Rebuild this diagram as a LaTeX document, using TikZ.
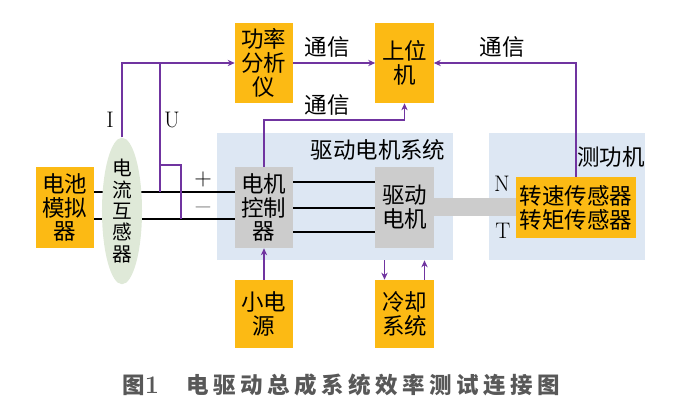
\documentclass[tikz,border=0pt]{standalone}
\usepackage{fontspec}
\newfontfamily\cjk{Noto Sans CJK SC}
\usetikzlibrary{arrows.meta,shapes.geometric,calc}
\definecolor{bxO}{RGB}{252,186,20}
\definecolor{bxG}{RGB}{204,204,204}
\definecolor{bgB}{RGB}{221,231,243}
\definecolor{ctG}{RGB}{223,233,216}
\definecolor{sgP}{RGB}{112,52,160}
\definecolor{capT}{RGB}{88,88,88}
\newcommand{\BW}{1.45cm}
\newcommand{\BH}{2.0cm}
\newcommand{\SH}{1.7cm}

\begin{document}
\begin{tikzpicture}[x=0.025cm, y=-0.025cm,
    blk/.style={fill=bxO, inner sep=0pt, minimum width=\BW, minimum height=\BH,
      align=center, font=\cjk\fontsize{16}{17}\selectfont},
    gbk/.style={blk, fill=bxG},
    sysbg/.style={fill=bgB, inner sep=0pt},
    pw/.style={draw=black, line width=1.4pt},
    sig/.style={draw=sgP, line width=1.4pt},
    arr/.style={sig, -{Stealth[length=5pt,width=4.5pt]}},
    lab/.style={font=\cjk\fontsize{16}{17}\selectfont, inner sep=0pt},
    ltr/.style={font=\fontsize{16}{17}\selectfont, inner sep=0pt},
  ]
  \useasboundingbox (0,0) rectangle (700,419);

  %% ================= the two system backgrounds =================
  \node[sysbg, minimum width=5.9cm, minimum height=3.175cm] (drv) at (335,196.5) {};
  \node[sysbg, minimum width=3.9cm, minimum height=3.175cm] (dyn) at (567,196.5) {};
  \node[lab] (drvT) at (378,150) {驱动电机系统};
  \node[lab, anchor=east] (dynT) at (645,157) {测功机};

  %% ================= blocks =================
  \node[blk] (pa) at (264,63) {功率\\分析\\仪};
  \node[blk] (pc) at (404.5,63) {上位\\机};
  \node[blk, minimum height=2.025cm] (bat) at (65,207.5) {电池\\模拟\\器};
  \node[gbk, minimum height=2.025cm] (mcu) at (264,207.5) {电机\\控制\\器};
  \node[gbk, minimum height=2.025cm] (mot) at (404.5,207.5) {驱动\\电机};
  \node[blk, minimum width=3.0cm, minimum height=1.525cm] (sen) at (576,207.5) {转速传感器\\转矩传感器};
  \node[blk, minimum height=\SH] (pwr) at (264,314) {小电\\源};
  \node[blk, minimum height=\SH] (cool) at (404.5,314) {冷却\\系统};

  \draw[bxG, line width=0.45cm] (mot.east) -- (mot.east -| sen.west);  % shaft

  %% ================= power wiring =================
  \coordinate (yP) at (0,192);
  \coordinate (yM) at (0,219);
  \draw[pw] (bat.east |- yP) -- (mcu.west |- yP);
  \draw[pw] (bat.east |- yM) -- (mcu.west |- yM);
  \foreach \dy in {-25.5,0.5,24.5} {            % three phases
    \draw[pw] ($(mcu.east)+(0,\dy)$) -- ($(mot.west)+(0,\dy)$);
  }
  \node[ltr] (plus) at (203,179) {$+$};
  \node[ltr, text=gray] (minus) at (203,207) {$-$};

  %% current transformer sits on the wires
  \node[ellipse, fill=ctG, minimum width=1.0cm, minimum height=3.3cm, inner sep=0pt,
    align=center, font=\cjk\fontsize{14}{15.2}\selectfont] (ct) at (122,211) {电\\流\\互\\感\\器};

  %% ================= signal lines =================
  \draw[arr] (ct.north) |- (pa.west);
  \coordinate (uA) at (160,192);
  \coordinate (uB) at (160,165);
  \coordinate (uC) at (181,219);
  \draw[sig] (uA) -- (uA |- pa.west);
  \draw[sig] (uB) -| (uC);
  \node[ltr] (lI) at (110,120) {I};
  \node[ltr] (lU) at (172,120) {U};

  \draw[arr] (pa) -- (pc);
  \draw[arr] (mcu.north) -- ++(0,-47) -| (pc.south);
  \draw[arr] (sen.north) |- (pc.east);
  \draw[arr] (pwr) -- (mcu);
  \coordinate (cdn) at ($(cool.north)+(-20,0)$);
  \coordinate (cup) at ($(cool.north)+(20,0)$);
  \draw[arr] (cdn |- drv.south) -- (cdn);
  \draw[arr] (cup) -- (cup |- drv.south);

  \node[lab] (t1) at (327,47) {通信};
  \node[lab] (t2) at (327,105) {通信};
  \node[lab] (t3) at (502,47) {通信};
  \node[ltr] (lN) at (502,184) {N};
  \node[ltr] (lT) at (503,231) {T};

  %% ================= caption =================
  \node[font=\cjk\bfseries\fontsize{16}{18}\selectfont, text=capT, anchor=west, inner sep=0pt]
    (cap) at (122,385) {图{\rmfamily\fontsize{18}{18}\selectfont 1}\hspace{0.68cm}{\addfontfeature{LetterSpace=20}电驱动总成系统效率测试连接图}};

\end{tikzpicture}
\end{document}
